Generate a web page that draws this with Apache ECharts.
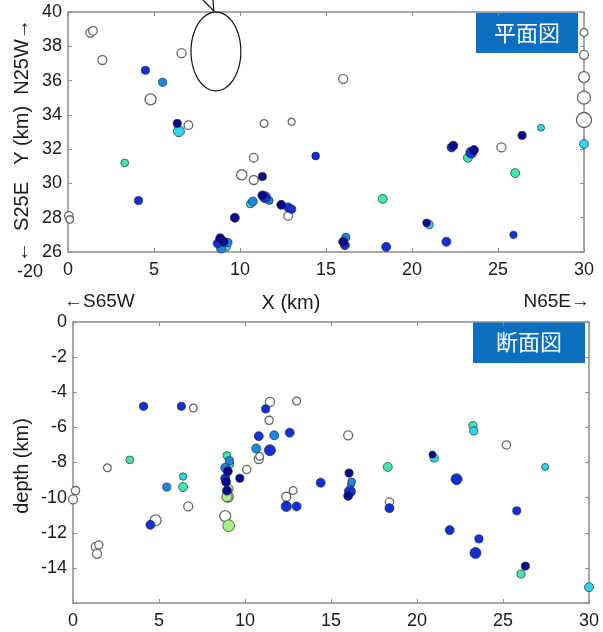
<!DOCTYPE html>
<html>
<head>
<meta charset="utf-8">
<script src="https://cdn.jsdelivr.net/npm/echarts@6.0.0/dist/echarts.min.js"></script>
<style>
  html, body { margin: 0; padding: 0; background: #fff; }
  #chart { width: 603px; height: 632px; }
</style>
</head>
<body>
<div id="chart"></div>
<script>
// 平面図 : [X km, Y km, magnitude]
const planOpen = [
  [1.3, 38.8, 1.5], [1.45, 38.9, 1.4], [2.0, 37.2, 1.5], [6.6, 37.6, 1.5], [4.8, 34.9, 2],
  [7.0, 33.4, 1.4], [11.4, 33.5, 1.2], [13.0, 33.6, 1.0], [16.0, 36.1, 1.5], [10.8, 31.5, 1.4],
  [10.1, 30.5, 1.8], [10.8, 30.2, 1.5], [12.8, 28.1, 1.4], [25.2, 32.1, 1.5],
  [30, 38.8, 1.2], [30, 37.5, 1.5], [30, 36.2, 2], [30, 35.0, 2.5], [30, 33.7, 3],
  [0.05, 28.1, 1.4], [0.1, 27.9, 1.1]
]
const planNavy = [
  [6.35, 33.5, 1.3], [11.3, 30.4, 1.3], [9.7, 28.0, 1.5], [11.3, 29.3, 1.5], [12.4, 28.75, 1.5],
  [8.85, 26.8, 1.5], [9.05, 26.6, 1.5], [16.0, 26.6, 1.5], [20.85, 27.7, 1.2], [22.4, 32.2, 1.5],
  [23.6, 31.95, 1.5], [26.4, 32.8, 1.3]
]
const planBlue = [
  [4.5, 36.6, 1.3], [4.1, 29.0, 1.3], [14.4, 31.6, 1.2], [11.45, 29.2, 2], [12.8, 28.6, 1.5],
  [13.0, 28.5, 1.3], [8.7, 26.5, 1.5], [16.1, 26.4, 1.5], [18.5, 26.3, 1.5], [22.0, 26.6, 1.5],
  [25.9, 27.0, 1.1], [23.45, 31.8, 2], [22.3, 32.1, 1.5]
]
const planMid = [
  [5.5, 35.9, 1.3], [10.75, 28.95, 1.5], [9.3, 26.55, 1.3], [8.9, 26.2, 1.5], [16.15, 26.85, 1.3],
  [11.7, 29.0, 1.2]
]
const planCyan = [
  [6.45, 33.05, 2], [9.2, 26.3, 1.3], [21.0, 27.6, 1.3], [30, 32.3, 1.5], [27.5, 33.25, 1.0],
  [10.6, 28.8, 1.2]
]
const planTeal = [
  [3.3, 31.2, 1.2], [18.3, 29.1, 1.5], [23.25, 31.5, 1.5], [26.0, 30.6, 1.5]
]

// 断面図 : [X km, depth km, magnitude]
const secOpen = [
  [7.0, -4.9, 1.2], [2.0, -8.3, 1.2], [0.15, -9.6, 1.3], [0, -10.1, 1.5], [6.7, -10.5, 1.5],
  [4.8, -11.3, 2], [1.3, -12.8, 1.3], [1.5, -12.7, 1.3], [1.4, -13.2, 1.5], [11.45, -4.55, 1.5],
  [13.0, -4.5, 1.2], [11.4, -5.6, 1.3], [10.8, -7.8, 1.5], [10.85, -7.65, 1.2], [16.0, -6.45, 1.5],
  [10.1, -8.4, 1.3], [8.85, -11.05, 2], [12.4, -9.95, 1.5], [12.8, -9.6, 1.2], [18.4, -10.25, 1.3],
  [25.2, -7.0, 1.3], [9.0, -9.95, 2]
]
const secNavy = [
  [9.0, -8.5, 1.5], [8.9, -9.1, 1.5], [8.95, -9.6, 1.5], [9.7, -8.9, 1.3], [16.05, -8.6, 1.3],
  [16.0, -9.9, 1.5], [20.9, -7.55, 1.0], [26.3, -13.9, 1.3]
]
const secBlue = [
  [4.1, -4.8, 1.3], [6.3, -4.8, 1.3], [11.2, -4.95, 1.3], [10.8, -6.5, 1.5], [12.6, -6.3, 1.5],
  [11.45, -7.3, 2], [4.5, -11.55, 1.5], [8.85, -8.9, 1.5], [12.4, -10.5, 1.8], [13.0, -10.5, 1.5],
  [14.4, -9.15, 1.5], [16.1, -9.65, 2], [18.4, -10.6, 1.5], [22.3, -8.95, 2], [21.9, -11.85, 1.5],
  [23.6, -12.35, 1.3], [23.4, -13.15, 2], [25.8, -10.75, 1.3]
]
const secMid = [
  [5.45, -9.4, 1.3], [11.7, -6.45, 1.5], [10.65, -7.2, 1.5], [8.85, -8.3, 1.5], [16.2, -9.1, 1.2],
  [9.1, -7.9, 1.3]
]
const secCyan = [
  [9.1, -8.1, 1.3], [6.4, -8.8, 1.1], [21.0, -7.75, 1.3], [23.3, -6.2, 1.3], [30.0, -15.1, 1.5],
  [27.45, -8.25, 1.0], [16.15, -9.3, 1.0]
]
const secTeal = [
  [3.3, -7.85, 1.2], [6.4, -9.4, 1.5], [18.3, -8.25, 1.5], [23.25, -5.9, 1.3], [26.05, -14.35, 1.3],
  [8.95, -7.6, 1.2]
]
const secGreen = [
  [9.05, -9.5, 1.5], [8.95, -9.95, 1.8], [9.05, -11.6, 2.2]
]

// 楕円 : [cx, cy, rx, ry] (km)
const ellipse = [[8.6, 37.7, 1.45, 2.3]]

const xTicks = [0, 30, 5]
const planYTicks = [26, 40, 2]
const secYTicks = [-16, 0, 2]

const FONT = '"Liberation Sans", Arial, sans-serif'
const AXIS = '#8c8c8c'

function axis(dim, range, gridIndex, pos, showLabel) {
  return {
    type: 'value',
    gridIndex: gridIndex,
    position: pos,
    min: range[0],
    max: range[1],
    interval: range[2],
    splitLine: { show: false },
    axisLine: { onZero: false, lineStyle: { color: AXIS, width: 1.5 } },
    axisTick: { inside: true, length: 4, lineStyle: { color: AXIS } },
    axisLabel: {
      show: showLabel,
      color: '#1a1a1a',
      fontSize: 18,
      fontFamily: FONT,
      margin: dim === 'x' ? 9 : 6,
      formatter: function (v) { return v === -16 ? '' : v }
    }
  }
}

function scatter(data, color, xi, yi, open) {
  return {
    type: 'scatter',
    xAxisIndex: xi,
    yAxisIndex: yi,
    data: data,
    silent: true,
    symbolSize: function (d) { return 3 + 4 * d[2] },
    itemStyle: open
      ? { color: '#fff', borderColor: '#666', borderWidth: 1.3, opacity: 1 }
      : { color: color, borderColor: '#2a2a2a', borderWidth: 0.7, opacity: 1 }
  }
}

const chart = echarts.init(document.getElementById('chart'))

chart.setOption({
  animation: false,
  grid: [
    { left: 68, top: 12, width: 516, height: 240 },
    { left: 73, top: 322, width: 516, height: 281 }
  ],
  xAxis: [
    axis('x', xTicks, 0, 'bottom', true),
    axis('x', xTicks, 0, 'top', false),
    axis('x', xTicks, 1, 'bottom', true),
    axis('x', xTicks, 1, 'top', false)
  ],
  yAxis: [
    axis('y', planYTicks, 0, 'left', true),
    axis('y', planYTicks, 0, 'right', false),
    axis('y', secYTicks, 1, 'left', true),
    axis('y', secYTicks, 1, 'right', false)
  ],
  series: [
    scatter(planOpen, null, 0, 0, true),
    scatter(planTeal, '#40e6b4', 0, 0),
    scatter(planCyan, '#2ed6ea', 0, 0),
    scatter(planMid, '#1c86e6', 0, 0),
    scatter(planBlue, '#1230da', 0, 0),
    scatter(planNavy, '#080890', 0, 0),
    {
      type: 'custom',
      xAxisIndex: 0,
      yAxisIndex: 0,
      clip: false,
      silent: true,
      data: ellipse,
      renderItem: function (params, api) {
        const cx = api.value(0), cy = api.value(1), rx = api.value(2), ry = api.value(3)
        const pts = []
        for (let i = 0; i <= 72; i++) {
          const a = i / 72 * Math.PI * 2
          pts.push(api.coord([cx + rx * Math.cos(a), cy + ry * Math.sin(a)]))
        }
        const top = api.coord([cx, cy + ry])
        const st = { stroke: '#111', fill: null, lineWidth: 1.2 }
        return {
          type: 'group',
          children: [
            { type: 'polyline', shape: { points: pts }, style: st },
            { type: 'line', shape: { x1: top[0] - 2, y1: top[1] - 1, x2: top[0] - 13, y2: top[1] - 12 }, style: st },
            { type: 'line', shape: { x1: top[0] - 2, y1: top[1] - 1, x2: top[0] - 3, y2: top[1] - 12 }, style: st }
          ]
        }
      }
    },
    scatter(secOpen, null, 2, 2, true),
    scatter(secGreen, '#a6ee86', 2, 2),
    scatter(secTeal, '#40e6b4', 2, 2),
    scatter(secCyan, '#2ed6ea', 2, 2),
    scatter(secMid, '#1c86e6', 2, 2),
    scatter(secBlue, '#1230da', 2, 2),
    scatter(secNavy, '#080890', 2, 2)
  ],
  graphic: [
    { type: 'rect', shape: { x: 476, y: 13, width: 102, height: 40 }, style: { fill: '#0a6fc0' } },
    { type: 'text', x: 527, y: 33, style: { text: '平面図', fill: '#fff', font: '22px "Noto Sans CJK JP"', align: 'center', verticalAlign: 'middle' } },
    { type: 'rect', shape: { x: 473, y: 322, width: 112, height: 41 }, style: { fill: '#0a6fc0' } },
    { type: 'text', x: 529, y: 342, style: { text: '断面図', fill: '#fff', font: '22px "Noto Sans CJK JP"', align: 'center', verticalAlign: 'middle' } },
    { type: 'text', x: 291, y: 303, style: { text: 'X (km)', fill: '#1a1a1a', font: '20px ' + FONT, align: 'center', verticalAlign: 'middle' } },
    { type: 'text', x: 64, y: 302, style: { text: '←S65W', fill: '#1a1a1a', font: '19px ' + FONT, align: 'left', verticalAlign: 'middle' } },
    { type: 'text', x: 590, y: 302, style: { text: 'N65E→', fill: '#1a1a1a', font: '19px ' + FONT, align: 'right', verticalAlign: 'middle' } },
    { type: 'text', x: 30, y: 272, style: { text: '-20', fill: '#1a1a1a', font: '18px ' + FONT, align: 'center', verticalAlign: 'middle' } },
    { type: 'text', x: 22, y: 222, rotation: Math.PI / 2, style: { text: '←  S25E', fill: '#1a1a1a', font: '20px ' + FONT, align: 'center', verticalAlign: 'middle' } },
    { type: 'text', x: 22, y: 92, rotation: Math.PI / 2, style: { text: 'Y (km)  N25W→', fill: '#1a1a1a', font: '20px ' + FONT, align: 'center', verticalAlign: 'middle' } },
    { type: 'text', x: 22, y: 466, rotation: Math.PI / 2, style: { text: 'depth (km)', fill: '#1a1a1a', font: '20px ' + FONT, align: 'center', verticalAlign: 'middle' } }
  ]
})
</script>
</body>
</html>
